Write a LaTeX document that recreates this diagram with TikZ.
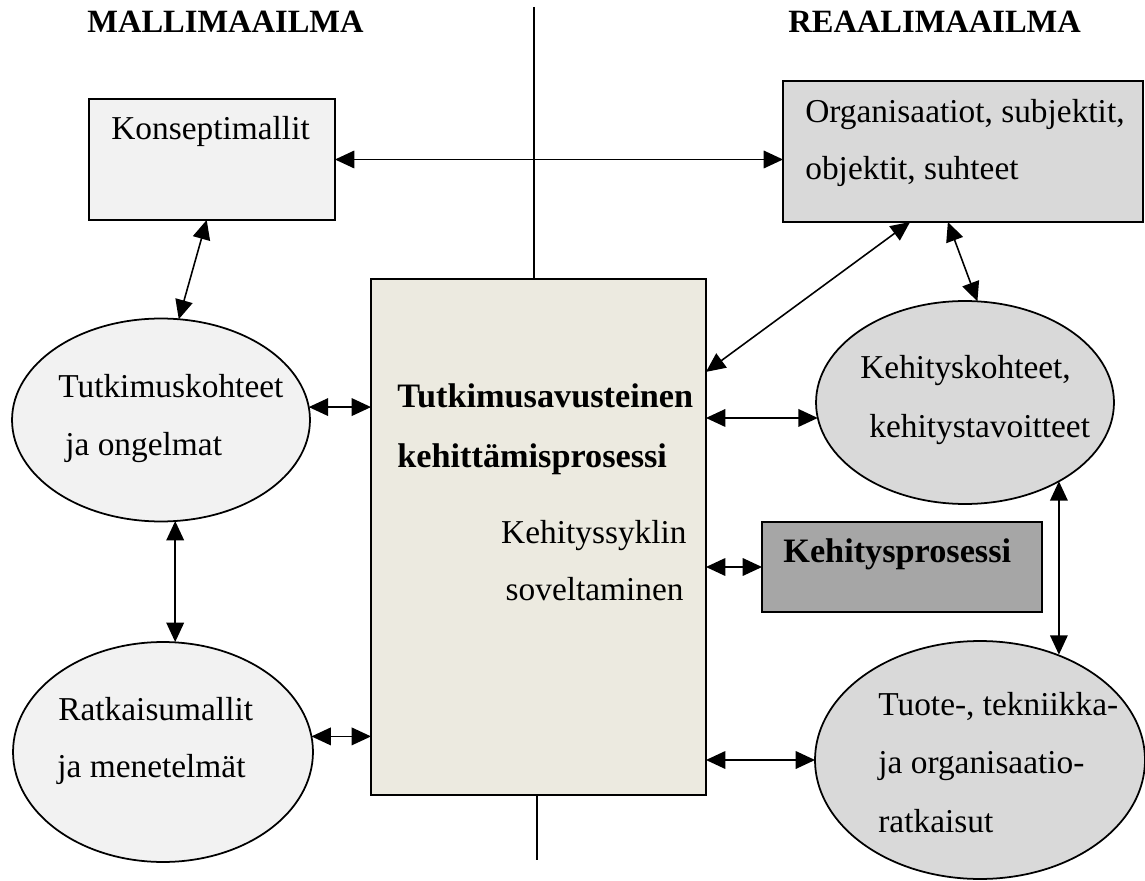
\documentclass[tikz,border=0pt]{standalone}
\usepackage{fontspec}
\setmainfont{Liberation Serif}
\usetikzlibrary{shapes.geometric,arrows.meta,calc}

\definecolor{palegray}{HTML}{F2F2F2}
\definecolor{midgray}{HTML}{D9D9D9}
\definecolor{darkgray}{HTML}{A6A6A6}
\definecolor{cream}{HTML}{ECEAE0}

\tikzset{
  box/.style={draw=black, line width=1pt, rectangle, inner sep=0pt, outer sep=0pt},
  oval/.style={draw=black, line width=1pt, ellipse, inner sep=0pt, outer sep=0pt},
  txt/.style={anchor=base west, inner sep=0pt, font=\fontsize{19}{22}\selectfont},
  btxt/.style={txt, font=\fontsize{19.5}{22}\selectfont\bfseries},
  title/.style={anchor=base west, inner sep=0pt, font=\fontsize{18.5}{22}\selectfont\bfseries},
  link/.style={line width=0.9pt, {Triangle[length=11pt,width=10pt]}-{Triangle[length=11pt,width=10pt]}},
  divider/.style={line width=0.9pt}
}

\begin{document}
\begin{tikzpicture}[x=0.02cm, y=-0.02cm]
\useasboundingbox (0,0) rectangle (1145,881);

% headings
\node[title] (hmalli) at (87,33) {MALLIMAAILMA};
\node[title] (hreaali) at (788,33) {REAALIMAAILMA};

% boxes
\node[box, fill=palegray, minimum width=4.92cm, minimum height=2.42cm] (konsepti) at (212,159.5) {};
\node[box, fill=midgray, minimum width=7.2cm, minimum height=2.82cm] (org) at (963,151.5) {};
\node[box, fill=cream, minimum width=6.7cm, minimum height=10.32cm] (big) at (538.5,537) {};
\node[box, fill=darkgray, minimum width=5.6cm, minimum height=1.8cm] (kp) at (902,567) {};

% ellipses
\node[oval, fill=palegray, minimum width=5.96cm, minimum height=4.06cm] (tk) at (161,420) {};
\node[oval, fill=palegray, minimum width=6.0cm, minimum height=4.4cm] (rk) at (163,752) {};
\node[oval, fill=midgray, minimum width=5.96cm, minimum height=4.06cm] (kk) at (965,402.5) {};
\node[oval, fill=midgray, minimum width=6.6cm, minimum height=4.76cm] (tu) at (980,760) {};

% texts
\node[txt] (t1) at (111,140) {Konseptimallit};
\node[txt] (t2a) at (805,123) {Organisaatiot, subjektit,};
\node[txt] (t2b) at (805,180) {objektit, suhteet};
\node[btxt] (t3a) at (397,408) {Tutkimusavusteinen};
\node[btxt] (t3b) at (397,467) {kehittämisprosessi};
\node[txt, anchor=base east] (t3c) at (687,543) {Kehityssyklin};
\node[txt, anchor=base east] (t3d) at (684,600) {soveltaminen};
\node[txt] (t4a) at (58,398) {Tutkimuskohteet};
\node[txt] (t4b) at (65,455) {ja ongelmat};
\node[txt] (t5a) at (58,720) {Ratkaisumallit};
\node[txt] (t5b) at (57,777) {ja menetelmät};
\node[txt] (t6a) at (860,378) {Kehityskohteet,};
\node[txt] (t6b) at (869,438) {kehitystavoitteet};
\node[btxt] (t7) at (783,562) {Kehitysprosessi};
\node[txt] (t8a) at (878,715) {Tuote-, tekniikka-};
\node[txt] (t8b) at (878,773) {ja organisaatio-};
\node[txt] (t8c) at (878,832) {ratkaisut};

% dividing line between the two worlds
\coordinate (divtop) at (534,7);
\coordinate (divbot) at (537,860);
\draw[divider] (divtop) -- (divtop |- big.north);
\draw[divider] (big.south -| divbot) -- (divbot);

% attachment points on the box edges
\coordinate (bigA) at ($(big.north east)!0.18!(big.south east)$);
\coordinate (orgA) at ($(org.south west)!0.353!(org.south east)$);
\coordinate (orgB) at ($(org.south west)!0.458!(org.south east)$);

% connectors
\draw[link] (konsepti.east) -- (konsepti.east -| org.west);
\draw[link] (konsepti.265) -- (tk.80);
\draw[link] (tk.5) -- (tk.5 -| big.west);
\draw[link] (tk.-82) -- (tk.-82 |- rk.north);
\draw[link] (rk.6.5) -- (rk.6.5 -| big.west);
\draw[link] (bigA) -- (orgA);
\draw[link] (orgB) -- (kk.83);
\draw[link] (big.east |- kk.186.4) -- (kk.186.4);
\draw[link] (big.east |- kp.west) -- (kp.west);
\draw[link] (big.east |- tu.west) -- (tu.west);
\draw[link] (kk.-40.5) -- (kk.-40.5 |- tu.54);
\end{tikzpicture}
\end{document}
